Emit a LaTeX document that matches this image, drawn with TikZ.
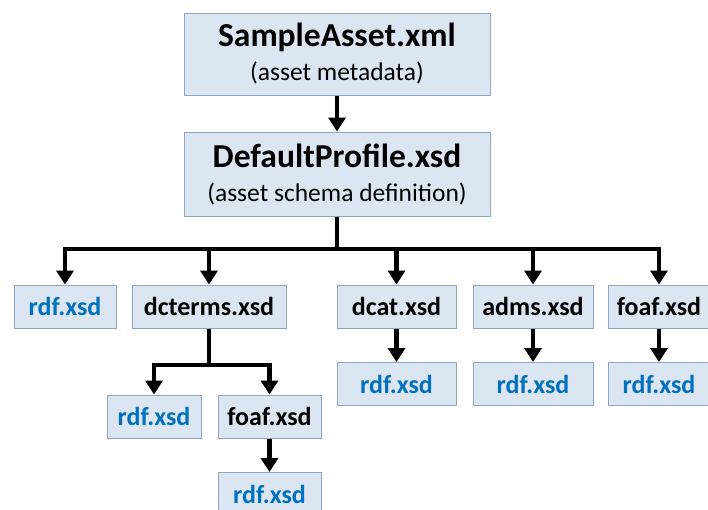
\documentclass[tikz,border=0pt]{standalone}
\usepackage{fontspec}
\setmainfont{Carlito}
\usepackage{tikz}
\usetikzlibrary{arrows.meta,shapes}
\definecolor{boxfill}{HTML}{DCE6F2}
\definecolor{boxline}{HTML}{8DA6C6}
\definecolor{xsdblue}{HTML}{0070C0}
\tikzstyle{file}=[draw=boxline,fill=boxfill,line width=1pt,inner sep=0pt,minimum height=43pt,font=\fontsize{26}{28}\selectfont\bfseries]
\tikzstyle{main file}=[file,align=center,minimum width=306pt,font=\fontsize{25.5}{34}\selectfont]
\tikzstyle{rdf}=[file,text=xsdblue]
\tikzstyle{arrow}=[draw,line width=4.5pt,-{Triangle[width=17pt,length=14pt]}]
\newcommand{\filename}[1]{{\fontsize{33.5}{36}\selectfont\bfseries #1}}

\begin{document}
\begin{tikzpicture}[x=1pt,y=-1pt]
    \useasboundingbox (0,0) rectangle (708,509);
    \node[main file,minimum height=82pt] (asset) at (337,54) {\filename{SampleAsset.xml}\\(asset metadata)};
    \node[main file,minimum height=84pt] (profile) at (337,174) {\filename{DefaultProfile.xsd}\\(asset schema definition)};
    % imported schemas
    \foreach \pos/\name/\boxw/\txt in {{(209,306.5)/dcterms/154/dcterms.xsd}, {(396.5,306.5)/dcat/119/dcat.xsd},
        {(533,306.5)/adms/120/adms.xsd}, {(659,306.5)/foaf/102/foaf.xsd}, {(269.5,416.5)/dcfoaf/103/foaf.xsd}}
        \node[file,minimum width=\boxw pt] (\name) at \pos {\txt};
    \foreach \pos/\name/\boxw in {{(65,306.5)/rdf/102}, {(396.5,384)/dcatrdf/119}, {(533,384)/admsrdf/120},
        {(659,384)/foafrdf/102}, {(154,416.5)/dcrdf/94}, {(269.5,494)/dcfoafrdf/103}}
        \node[rdf,minimum width=\boxw pt] (\name) at \pos {rdf.xsd};
    \coordinate (bus) at (337,249);
    \coordinate (dcbus) at (209,365);
    \path[arrow] (asset) -- (profile);
    \foreach \dest in {rdf,dcterms,dcat,adms,foaf}
        \path[arrow] (profile.south) -- (bus) -| (\dest.north);
    \foreach \dest in {dcrdf,dcfoaf}
        \path[arrow] (dcterms.south) -- (dcbus) -| (\dest.north);
    \foreach \source/\dest in {dcat/dcatrdf, adms/admsrdf, foaf/foafrdf, dcfoaf/dcfoafrdf}
        \path[arrow] (\source) -- (\dest);
\end{tikzpicture}
\end{document}
